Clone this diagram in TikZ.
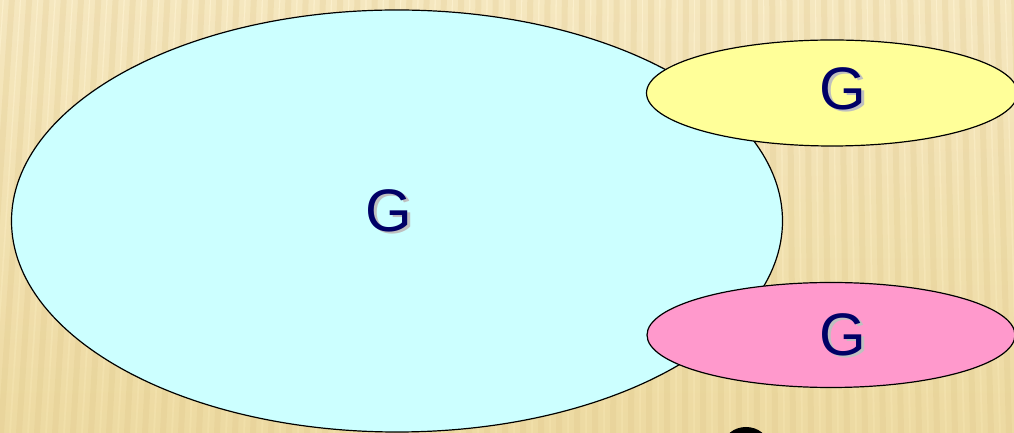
\documentclass[tikz,border=0pt]{standalone}
\usepackage{fontspec}
\setmainfont{Liberation Sans}
\usetikzlibrary{shapes.geometric}
\definecolor{bgbase}{HTML}{F1DFA8}
\definecolor{bglight}{HTML}{FBEFCC}
\definecolor{stripe}{HTML}{DEC688}
\definecolor{cyanfill}{HTML}{CCFFFF}
\definecolor{yellowfill}{HTML}{FFFF99}
\definecolor{pinkfill}{HTML}{FF99CC}
\definecolor{navy}{HTML}{000066}
\newcommand{\shadowG}{\makebox[0pt][l]{\hspace{2.5pt}\raisebox{-2.5pt}{\textcolor{black!25}{G}}}G}
\tikzset{
  blob/.style={ellipse, draw=black, line width=1.2pt, inner sep=0pt},
  glabel/.style={font=\fontsize{60}{62}\selectfont, text=navy, inner sep=0pt},
}
\begin{document}
\begin{tikzpicture}[x=1pt,y=1pt]
\useasboundingbox (0,0) rectangle (1014,433);
\clip (0,0) rectangle (1014,433);
% background
\shade[top color=bglight, bottom color=bgbase] (0,0) rectangle (1014,433);
\foreach \i in {0,...,62} {
  \pgfmathsetmacro{\xb}{\i*18-40}
  \pgfmathsetmacro{\xt}{\xb + 0.04*(700-\xb)}
  \fill[stripe, opacity=0.18] (\xb-3,0) -- (\xb+13,0) -- (\xt+13,433) -- (\xt-3,433) -- cycle;
  \fill[stripe, opacity=0.25] (\xb+2,0) -- (\xb+8,0) -- (\xt+8,433) -- (\xt+2,433) -- cycle;
}
% bottom black shape (cut off)
\node[ellipse, fill=black, minimum width=44pt, minimum height=36pt, inner sep=0pt] (dark) at (746,-12) {};
% ellipses
\node[blob, fill=cyanfill, minimum width=771pt, minimum height=422pt] (big) at (397,212) {};
\node[blob, fill=yellowfill, minimum width=371pt, minimum height=106pt] (yel) at (832,340) {};
\node[blob, fill=pinkfill, minimum width=368pt, minimum height=105pt] (pink) at (831,98) {};
% labels
\node[glabel] (bigl) at (389,221) {\shadowG};
\node[glabel] (yell) at (843,343) {\shadowG};
\node[glabel] (pinkl) at (843,97) {\shadowG};
\end{tikzpicture}
\end{document}
